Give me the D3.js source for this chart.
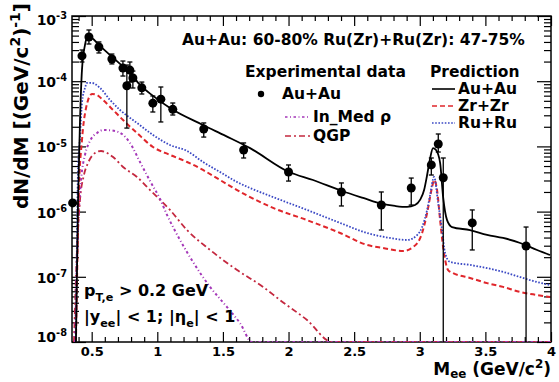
<!DOCTYPE html>
<html>
<head>
<meta charset="utf-8">
<script src="https://cdn.jsdelivr.net/npm/d3@7"></script>
<style>
  body { margin: 0; background: #fff; overflow: hidden; }
  svg { display: block; font-family: 'DejaVu Sans', sans-serif; font-weight: bold; }
</style>
</head>
<body>
<div id="app"></div>
<script>
'use strict'

// Au+Au measured points (M_ee, dN/dM, upper / lower end of error bar)
const dataMass = [0.355, 0.426, 0.479, 0.555, 0.654, 0.738, 0.768, 0.791, 0.814, 0.882, 0.966, 1.027, 1.118,
  1.354, 1.658, 2.0, 2.403, 2.707, 2.935, 3.088, 3.141, 3.179, 3.40, 3.81]
const dataYield = [1.36e-6, 2.44e-4, 4.76e-4, 3.35e-4, 2.19e-4, 1.59e-4, 8.5e-5, 1.48e-4, 1.12e-4, 7.9e-5, 4.6e-5, 5.3e-5, 3.7e-5,
  1.85e-5, 8.8e-6, 4.05e-6, 2.0e-6, 1.26e-6, 2.3e-6, 5.2e-6, 1.09e-5, 3.3e-6, 6.7e-7, 2.97e-7]
const dataHi = [1.36e-6, 3.01e-4, 6.1e-4, 4.0e-4, 2.61e-4, 2.04e-4, 1.77e-4, 1.97e-4, 1.43e-4, 9.7e-5, 5.93e-5, 8.15e-5, 4.63e-5,
  2.29e-5, 1.13e-5, 5.19e-6, 2.75e-6, 2.0e-6, 3.27e-6, 6.64e-6, 1.55e-5, 6.64e-6, 1.06e-6, 5.8e-7]
const dataLo = [1.36e-6, 1.97e-4, 3.72e-4, 2.71e-4, 1.84e-4, 1.2e-4, 1.91e-5, 9.7e-5, 7.87e-5, 6.36e-5, 3.37e-5, 2.37e-5, 3.03e-5,
  1.39e-5, 6.64e-6, 2.94e-6, 1.22e-6, 5.22e-7, 1.26e-6, 3.64e-6, 8.2e-6, 1e-9, 2.58e-7, 1e-9]

// Predictions
const auMass = [0.380, 0.396, 0.411, 0.426, 0.449, 0.472, 0.502, 0.563, 0.640, 0.716, 0.792, 0.868, 0.97, 1.097, 1.348, 1.52,
  1.707, 2.004, 2.187, 2.408, 2.568, 2.713, 2.812, 2.903, 2.964, 3.002, 3.033, 3.056, 3.079, 3.101, 3.124, 3.155, 3.178,
  3.208, 3.246, 3.383, 3.513, 3.635, 3.765, 3.894, 3.993]
const auYield = [1e-8, 1.5e-6, 2.5e-5, 1.49e-4, 3.6e-4, 4.9e-4, 4.6e-4, 3.47e-4, 2.52e-4, 1.84e-4, 1.34e-4, 8.75e-5, 5.9e-5, 3.88e-5, 2.13e-5, 1.45e-5,
  9.4e-6, 4.05e-6, 3.05e-6, 2.07e-6, 1.62e-6, 1.31e-6, 1.22e-6, 1.18e-6, 1.26e-6, 1.51e-6, 2.14e-6, 3.64e-6, 6.6e-6, 9.4e-6, 8.8e-6, 5.6e-6, 1.67e-6,
  7.4e-7, 5.8e-7, 5.2e-7, 4.4e-7, 3.94e-7, 3.3e-7, 2.58e-7, 2.16e-7]

const zrMass = [0.380, 0.403, 0.426, 0.457, 0.502, 0.541, 0.586, 0.663, 0.739, 0.845, 0.967, 1.097, 1.227, 1.348, 1.478, 1.608,
  1.707, 1.882, 2.141, 2.393, 2.598, 2.720, 2.873, 2.949, 3.018, 3.056, 3.094, 3.109, 3.132, 3.155, 3.178, 3.216, 3.254,
  3.383, 3.513, 3.635, 3.765, 3.894, 3.993]
const zrYield = [1e-8, 2.14e-6, 1.25e-5, 3.88e-5, 6.37e-5, 6.14e-5, 5.15e-5, 3.62e-5, 2.54e-5, 1.61e-5, 9.8e-6, 7.4e-6, 5.77e-6, 4.35e-6, 3.05e-6, 2.14e-6,
  1.67e-6, 1.14e-6, 7.4e-7, 4.7e-7, 3.08e-7, 2.77e-7, 2.49e-7, 2.86e-7, 4.7e-7, 9.5e-7, 2.38e-6, 3.05e-6, 2.14e-6, 7.4e-7, 2.86e-7, 1.27e-7, 1.14e-7,
  9.6e-8, 8.0e-8, 7.0e-8, 5.85e-8, 5.26e-8, 4.9e-8]

const ruMass = [0.380, 0.396, 0.411, 0.426, 0.449, 0.464, 0.502, 0.563, 0.640, 0.716, 0.845, 0.967, 1.097, 1.227, 1.348, 1.478,
  1.608, 1.707, 1.882, 2.141, 2.393, 2.598, 2.774, 2.903, 2.980, 3.018, 3.056, 3.079, 3.109, 3.140, 3.170, 3.193, 3.231,
  3.383, 3.513, 3.635, 3.765, 3.894, 3.993]
const ruYield = [1e-8, 4.35e-6, 1.39e-5, 4.63e-5, 7.87e-5, 9.4e-5, 9.4e-5, 7.9e-5, 5.15e-5, 3.62e-5, 2.29e-5, 1.5e-5, 1.05e-5, 8.5e-6, 5.77e-6, 4.05e-6,
  2.84e-6, 2.3e-6, 1.67e-6, 1.06e-6, 6.7e-7, 4.7e-7, 3.94e-7, 3.67e-7, 4.37e-7, 5.8e-7, 1.06e-6, 1.8e-6, 3.4e-6, 1.36e-6, 5.2e-7, 2.32e-7, 1.69e-7,
  1.52e-7, 1.36e-7, 1.19e-7, 9.9e-8, 8.3e-8, 7.5e-8]

const rhoMass = [0.373, 0.396, 0.419, 0.449, 0.487, 0.541, 0.594, 0.678, 0.731, 0.792, 0.868, 0.945, 1.021, 1.074, 1.173,
  1.272, 1.402, 1.531, 1.630, 1.722, 2.5, 4.0]
const rhoYield = [1e-8, 5.2e-7, 3.05e-6, 7.4e-6, 1.21e-5, 1.61e-5, 1.79e-5, 1.72e-5, 1.55e-5, 1.13e-5, 5.77e-6, 2.94e-6, 1.56e-6, 8.9e-7, 3.67e-7,
  1.69e-7, 7.0e-8, 3.44e-8, 1.95e-8, 1e-8, 1e-9, 1e-9]

const qgpMass = [0.365, 0.388, 0.411, 0.441, 0.472, 0.525, 0.571, 0.663, 0.739, 0.845, 0.945, 1.097, 1.227, 1.402, 1.608,
  1.806, 1.935, 2.141, 2.332, 3.0, 4.0]
const qgpYield = [1e-8, 2.58e-7, 1.51e-6, 3.64e-6, 5.56e-6, 7.9e-6, 8.5e-6, 6.87e-6, 4.83e-6, 3.4e-6, 2.14e-6, 1.06e-6, 5.2e-7, 2.58e-7, 1.27e-7,
  7.0e-8, 4.4e-8, 2.17e-8, 1e-8, 1e-9, 1e-9]

const xTickLabels = ['0.5', '1', '1.5', '2', '2.5', '3', '3.5', '4']
const yDecades = [-3, -4, -5, -6, -7, -8]

const W = 559
const H = 382
const margin = { top: 16, right: 8, bottom: 40, left: 72 }

const svg = d3.select('#app').append('svg')
  .attr('width', W)
  .attr('height', H)

const x = d3.scaleLinear().domain([0.35, 4]).range([margin.left, W - margin.right])
const y = d3.scaleLog().domain([1e-8, 1e-3]).range([H - margin.bottom, margin.top]).clamp(true)

const richText = (sel, parts, size, subShift = 0.3) => {
  let shift = 0
  parts.forEach(([str, kind]) => {
    const target = kind === 'sup' ? -0.42 * size : kind === 'sub' ? subShift * size : 0
    sel.append('tspan')
      .attr('dy', target - shift)
      .attr('font-size', kind ? size * 0.7 : size)
      .text(str)
    shift = target
  })
}

/*
 * Ticks (ROOT style: inward, on all four sides)
 */
const xMajor = xTickLabels.map(Number)
const xMinor = d3.range(4, 41).map(i => i / 10).filter(v => Math.round(v * 10) % 5 !== 0)
const yMajor = yDecades.map(d => Math.pow(10, d))
const yMinor = []
yDecades.slice(0, -1).forEach(d => d3.range(2, 10).forEach(k => yMinor.push(k * Math.pow(10, d - 1))))

const addAxis = (axis, tr) => svg.append('g')
  .attr('transform', tr)
  .call(axis)
  .call(g => g.select('.domain').remove())
  .call(g => g.selectAll('line').attr('stroke', '#000').attr('stroke-width', 1.2))

const atBottom = `translate(0,${H - margin.bottom})`
const atTop = `translate(0,${margin.top})`
const atLeft = `translate(${margin.left},0)`
const atRight = `translate(${W - margin.right},0)`

addAxis(d3.axisBottom(x).tickValues(xMajor).tickSize(-10).tickPadding(5).tickFormat((d, i) => xTickLabels[i]), atBottom)
  .attr('font-family', null)
  .attr('font-size', 13)
addAxis(d3.axisBottom(x).tickValues(xMinor).tickSize(-5).tickFormat(''), atBottom)
addAxis(d3.axisTop(x).tickValues(xMajor).tickSize(-10).tickFormat(''), atTop)
addAxis(d3.axisTop(x).tickValues(xMinor).tickSize(-5).tickFormat(''), atTop)
addAxis(d3.axisLeft(y).tickValues(yMajor).tickSize(-14).tickFormat(''), atLeft)
addAxis(d3.axisLeft(y).tickValues(yMinor).tickSize(-7).tickFormat(''), atLeft)
addAxis(d3.axisRight(y).tickValues(yMajor).tickSize(-14).tickFormat(''), atRight)
addAxis(d3.axisRight(y).tickValues(yMinor).tickSize(-7).tickFormat(''), atRight)

// decade labels 10^n
svg.append('g').selectAll('text')
  .data(yDecades)
  .join('text')
  .attr('x', margin.left - 5)
  .attr('y', (d, i) => y(Math.pow(10, d)) + (i === 0 ? 9 : i === yDecades.length - 1 ? 0 : 6))
  .attr('text-anchor', 'end')
  .each(function (d) { richText(d3.select(this), [['10', ''], [String(d), 'sup']], 14) })

// frame
svg.append('rect')
  .attr('x', margin.left)
  .attr('y', margin.top)
  .attr('width', W - margin.left - margin.right)
  .attr('height', H - margin.top - margin.bottom)
  .attr('fill', 'none')
  .attr('stroke', '#000')
  .attr('stroke-width', 1.5)

svg.append('clipPath').attr('id', 'plot')
  .append('rect')
  .attr('x', margin.left)
  .attr('y', margin.top)
  .attr('width', W - margin.left - margin.right)
  .attr('height', H - margin.top - margin.bottom)

const plot = svg.append('g').attr('clip-path', 'url(#plot)')

/*
 * Prediction curves
 */
const line = d3.line()
  .x(d => x(d[0]))
  .y(d => y(d[1]))
  .curve(d3.curveMonotoneX)

const curves = [
  { mass: qgpMass, val: qgpYield, color: '#c4283f', dash: '6,3,2,3', width: 1.8 },
  { mass: rhoMass, val: rhoYield, color: '#a437b8', dash: '2.5,2.5,1,2.5', width: 2 },
  { mass: zrMass, val: zrYield, color: '#e0262b', dash: '5,3', width: 2 },
  { mass: ruMass, val: ruYield, color: '#3a48c4', dash: '1.6,1.6', width: 1.8 },
  { mass: auMass, val: auYield, color: '#000', dash: null, width: 1.8 }
]

plot.selectAll('path.curve')
  .data(curves)
  .join('path')
  .attr('class', 'curve')
  .attr('d', c => line(c.mass.map((m, i) => [m, c.val[i]])))
  .attr('fill', 'none')
  .attr('stroke', c => c.color)
  .attr('stroke-width', c => c.width)
  .attr('stroke-dasharray', c => c.dash)

/*
 * Measured points with error bars
 */
const points = dataMass.map((m, i) => ({ m, v: dataYield[i], hi: dataHi[i], lo: dataLo[i] }))

const bars = plot.append('g').attr('stroke', '#000').attr('stroke-width', 1.3)
bars.selectAll('line.bar')
  .data(points)
  .join('line')
  .attr('class', 'bar')
  .attr('x1', d => x(d.m)).attr('x2', d => x(d.m))
  .attr('y1', d => y(d.hi)).attr('y2', d => y(d.lo))
bars.selectAll('line.capHi')
  .data(points.filter(d => d.hi > d.v))
  .join('line')
  .attr('class', 'capHi')
  .attr('x1', d => x(d.m) - 2.5).attr('x2', d => x(d.m) + 2.5)
  .attr('y1', d => y(d.hi)).attr('y2', d => y(d.hi))
bars.selectAll('line.capLo')
  .data(points.filter(d => d.lo < d.v && d.lo > 1e-8))
  .join('line')
  .attr('class', 'capLo')
  .attr('x1', d => x(d.m) - 2.5).attr('x2', d => x(d.m) + 2.5)
  .attr('y1', d => y(d.lo)).attr('y2', d => y(d.lo))

svg.append('g').selectAll('circle')
  .data(points)
  .join('circle')
  .attr('cx', d => x(d.m))
  .attr('cy', d => y(d.v))
  .attr('r', 4.5)
  .attr('fill', '#000')

/*
 * Texts and legends
 */
svg.append('text').attr('x', 182).attr('y', 45).attr('font-size', 15.5)
  .text('Au+Au: 60-80% Ru(Zr)+Ru(Zr): 47-75%')

svg.append('text').attr('x', 245).attr('y', 77).attr('font-size', 15.5).text('Experimental data')
svg.append('text').attr('x', 430).attr('y', 77).attr('font-size', 15.5).text('Prediction')

svg.append('circle').attr('cx', 261).attr('cy', 94).attr('r', 3.2).attr('fill', '#000')
svg.append('text').attr('x', 282).attr('y', 99).attr('font-size', 15.5).text('Au+Au')

const leftItems = [
  { label: 'In_Med ρ', c: curves[1], yy: 117 },
  { label: 'QGP', c: curves[0], yy: 136 }
]
const rightItems = [
  { label: 'Au+Au', c: curves[4], yy: 89 },
  { label: 'Zr+Zr', c: curves[2], yy: 106 },
  { label: 'Ru+Ru', c: curves[3], yy: 123 }
]
const addLegend = (items, x0, x1) => items.forEach(it => {
  svg.append('line')
    .attr('x1', x0).attr('x2', x1)
    .attr('y1', it.yy).attr('y2', it.yy)
    .attr('stroke', it.c.color)
    .attr('stroke-width', 1.6)
    .attr('stroke-dasharray', it.c.dash)
  svg.append('text').attr('x', x1 + 3).attr('y', it.yy + 5).attr('font-size', 15.5).text(it.label)
})
addLegend(leftItems, 285, 310)
addLegend(rightItems, 432, 455)

const cut1 = svg.append('text').attr('x', 84).attr('y', 296)
richText(cut1, [['p', ''], ['T,e', 'sub'], [' > 0.2 GeV', '']], 16)
const cut2 = svg.append('text').attr('x', 84).attr('y', 322)
richText(cut2, [['|y', ''], ['ee', 'sub'], ['| < 1; |η', ''], ['e', 'sub'], ['| < 1', '']], 16)

// axis titles
const xTitle = svg.append('text').attr('x', W - 8).attr('y', 375).attr('text-anchor', 'end')
richText(xTitle, [['M', ''], ['ee', 'sub'], [' (GeV/c', ''], ['2', 'sup'], [')', '']], 17, 0.2)

const yTitle = svg.append('text')
  .attr('transform', 'translate(28,3) rotate(-90)')
  .attr('text-anchor', 'end')
richText(yTitle, [['dN/dM [(GeV/c', ''], ['2', 'sup'], [')', ''], ['-1', 'sup'], [']', '']], 20)
</script>
</body>
</html>
